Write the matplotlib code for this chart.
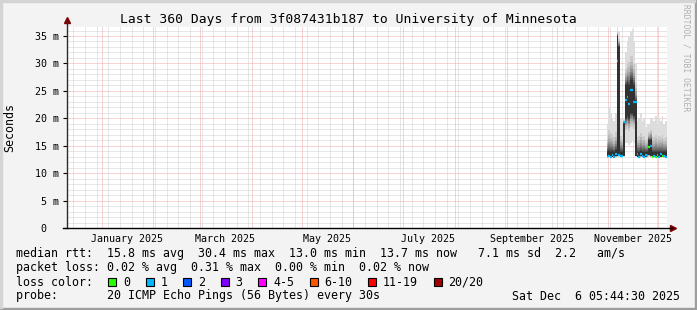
import numpy as np
import pandas as pd
import matplotlib
matplotlib.use("Agg")
import matplotlib.pyplot as plt
import matplotlib.dates as mdates
from matplotlib.patches import Rectangle

# ---- data (values in ms), one step per day ----
days = pd.date_range("2025-10-31", "2025-12-06", freq="D")
median_ms = [13.0, 13.2, 13.0, 13.3, 13.0, 13.4, 30.4, 13.3, 13.2, 13.1,
             19.3, 23.3, 23.9, 22.6, 25.2, 25.2, 23.0, 22.9, 13.4, 13.0,
             13.5, 13.2, 13.0, 13.3, 13.1, 14.8, 15.0, 13.0, 13.2, 13.0,
             13.3, 13.0, 13.4, 13.1, 13.2, 13.0, 13.1]
lo_ms = [12.7, 12.8, 12.8, 12.8, 12.8, 12.8, 12.9, 12.9, 12.8, 12.8,
         13.0, 15.5, 15.5, 15.2, 15.5, 15.8, 15.5, 13.0, 12.8, 12.8,
         12.8, 12.8, 12.8, 12.8, 12.8, 13.0, 12.9, 12.7, 12.8, 12.8,
         12.8, 12.8, 12.8, 12.8, 12.8, 12.8, 12.8]
q1_ms = [12.9, 13.0, 13.0, 13.0, 13.0, 13.1, 13.2, 13.2, 13.0, 13.0,
         13.2, 20.0, 20.5, 20.0, 21.0, 21.0, 20.5, 13.2, 13.0, 13.0,
         13.1, 13.0, 13.0, 13.0, 13.0, 13.3, 13.1, 12.9, 13.0, 13.0,
         13.0, 13.0, 13.0, 13.0, 13.0, 13.0, 13.0]
q3_ms = [13.8, 14.0, 13.9, 14.0, 13.8, 14.2, 35.0, 33.0, 13.9, 13.8,
         19.3, 26.0, 26.5, 26.0, 27.0, 27.0, 26.0, 23.0, 13.9, 13.8,
         14.0, 13.8, 13.9, 13.8, 13.8, 16.0, 16.0, 13.8, 13.8, 13.8,
         13.9, 13.8, 13.9, 13.8, 13.8, 13.8, 13.8]
hi_ms = [19.0, 22.0, 21.0, 20.0, 19.5, 21.0, 36.6, 36.0, 20.0, 19.0,
         19.8, 32.0, 34.0, 35.0, 36.0, 36.2, 34.0, 30.0, 19.5, 20.0,
         21.0, 19.5, 20.0, 18.5, 19.0, 19.0, 20.0, 20.0, 19.5, 20.5,
         19.0, 20.0, 19.5, 20.5, 19.0, 19.5, 18.5]
loss = [0, 1, 1, 1, 1, 1, 1, 1, 1, 1,
        1, 1, 1, 1, 1, 1, 1, 1, 1, 1,
        1, 1, 1, 1, 0, 0, 1, 0, 1, 0,
        1, 1, 1, 0, 1, 1, 1]

loss_labels = ["0", "1", "2", "3", "4-5", "6-10", "11-19", "20/20"]
loss_colors = ["#26ff00", "#00b8ff", "#0059ff", "#7e00ff",
               "#ff00ff", "#ff5500", "#ff0000", "#a10000"]

end = pd.Timestamp("2025-12-06 05:44:30")
start = end - pd.Timedelta(days=360)

W, H = 697, 310
FONT = "DejaVu Sans Mono"
plt.rcParams["font.family"] = FONT


def fx(x):
    return x / W


def fy(y):
    return 1 - y / H


fig = plt.figure(figsize=(W / 100, H / 100), dpi=100, facecolor="#f3f3f3")

# frame shading
fig.patches.append(Rectangle((0, 0), 1, 2 / H, transform=fig.transFigure, color="#9e9e9e"))
fig.patches.append(Rectangle((1 - 2 / W, 0), 2 / W, 1, transform=fig.transFigure, color="#9e9e9e"))
fig.patches.append(Rectangle((0, 1 - 2 / H), 1 - 2 / W, 2 / H, transform=fig.transFigure, color="#d4d4d4"))
fig.patches.append(Rectangle((0, 2 / H), 2 / W, 1, transform=fig.transFigure, color="#d4d4d4"))

ax = fig.add_axes([fx(67), fy(228), 600 / W, 201 / H])
ax.set_facecolor("white")
ax.set_xlim(start, end)
ax.set_ylim(0, 201 / 5.486)
for s in ax.spines.values():
    s.set_visible(False)

# grid
minor_c, major_c = "#d0d0d0", "#f3a8a8"
dash = (0, (1, 1))
for v in range(0, 37):
    if v % 5:
        ax.axhline(v, color=minor_c, lw=0.72, ls=dash, zorder=1)
wk = mdates.WeekdayLocator(byweekday=mdates.SU).tick_values(start, end)
mo = mdates.MonthLocator().tick_values(start, end)
for t in wk:
    ax.axvline(t, color=minor_c, lw=0.72, ls=dash, zorder=1)
for v in range(5, 37, 5):
    ax.axhline(v, color=major_c, lw=0.72, ls=dash, zorder=2)
for t in mo:
    ax.axvline(t, color=major_c, lw=0.72, ls=dash, zorder=2)

# smoke
xs = list(days) + [end]
lo = np.array(lo_ms); q1 = np.array(q1_ms); q3 = np.array(q3_ms); hi = np.array(hi_ms)
nb = 10
for k in range(nb):
    t = k / (nb - 1)
    w = t ** 0.3
    lower = lo + (q1 - lo) * w
    upper = hi + (q3 - hi) * w
    g = (221 - 171 * t) / 255
    ax.fill_between(xs, np.append(lower, lower[-1]), np.append(upper, upper[-1]),
                    step="post", color=(g, g, g), lw=0, zorder=3)

# median, coloured by loss
ax.hlines(median_ms, days, xs[1:], colors=[loss_colors[l] for l in loss], lw=1.6, zorder=4)

# axes + arrows
ax.plot([0, 0], [0, 1.03], transform=ax.transAxes, color="#2c2c2c", lw=1, clip_on=False, zorder=5)
ax.plot([-0.006, 1.008], [0, 0], transform=ax.transAxes, color="#000000", lw=1, clip_on=False, zorder=5)
ax.plot([0], [1.035], marker="^", ms=5, color="#7f0000", transform=ax.transAxes, clip_on=False)
ax.plot([1.01], [0], marker=">", ms=5, color="#7f0000", transform=ax.transAxes, clip_on=False)

# ticks
ax.set_yticks(range(0, 36, 5))
ax.set_yticklabels(["0  "] + ["%2d m" % v for v in range(5, 36, 5)])
ax.tick_params(axis="y", length=3, width=0.8, pad=3, labelsize=7.2)
mid = mdates.MonthLocator(bymonth=[1, 3, 5, 7, 9, 11], bymonthday=16)
ax.xaxis.set_major_locator(mid)
ax.xaxis.set_major_formatter(mdates.DateFormatter("%B %Y"))
ax.tick_params(axis="x", length=0, pad=4, labelsize=7.2)

# texts
fig.text(fx(348.5), fy(19), "Last 360 Days from 3f087431b187 to University of Minnesota",
         ha="center", va="center", fontsize=9.4)
fig.text(fx(10), fy(127), "Seconds", rotation=90, ha="center", va="center", fontsize=8.4)
fig.text(fx(686), fy(4), "RRDTOOL / TOBI OETIKER", rotation=270, ha="center", va="top",
         fontsize=5.8, color="#b0b0b0")

lines = [
    "median rtt:  15.8 ms avg  30.4 ms max  13.0 ms min  13.7 ms now   7.1 ms sd  2.2   am/s",
    "packet loss: 0.02 % avg  0.31 % max  0.00 % min  0.02 % now",
    "loss color:",
    "probe:       20 ICMP Echo Pings (56 Bytes) every 30s",
]
for i, s in enumerate(lines):
    fig.text(fx(16), fy(254 + 14 * i), s, ha="left", va="center", fontsize=8.4)
fig.text(fx(680), fy(296), "Sat Dec  6 05:44:30 2025", ha="right", va="center", fontsize=8.4)

bx = 108
for lab, col in zip(loss_labels, loss_colors):
    fig.patches.append(Rectangle((fx(bx), fy(285.5)), 8 / W, 8 / H, transform=fig.transFigure,
                                 facecolor=col, edgecolor="black", lw=0.8))
    fig.text(fx(bx + 15), fy(282), lab, ha="left", va="center", fontsize=8.4)
    bx += 30.5 + 7 * len(lab)

fig.savefig("out.png", dpi=100, facecolor=fig.get_facecolor())
